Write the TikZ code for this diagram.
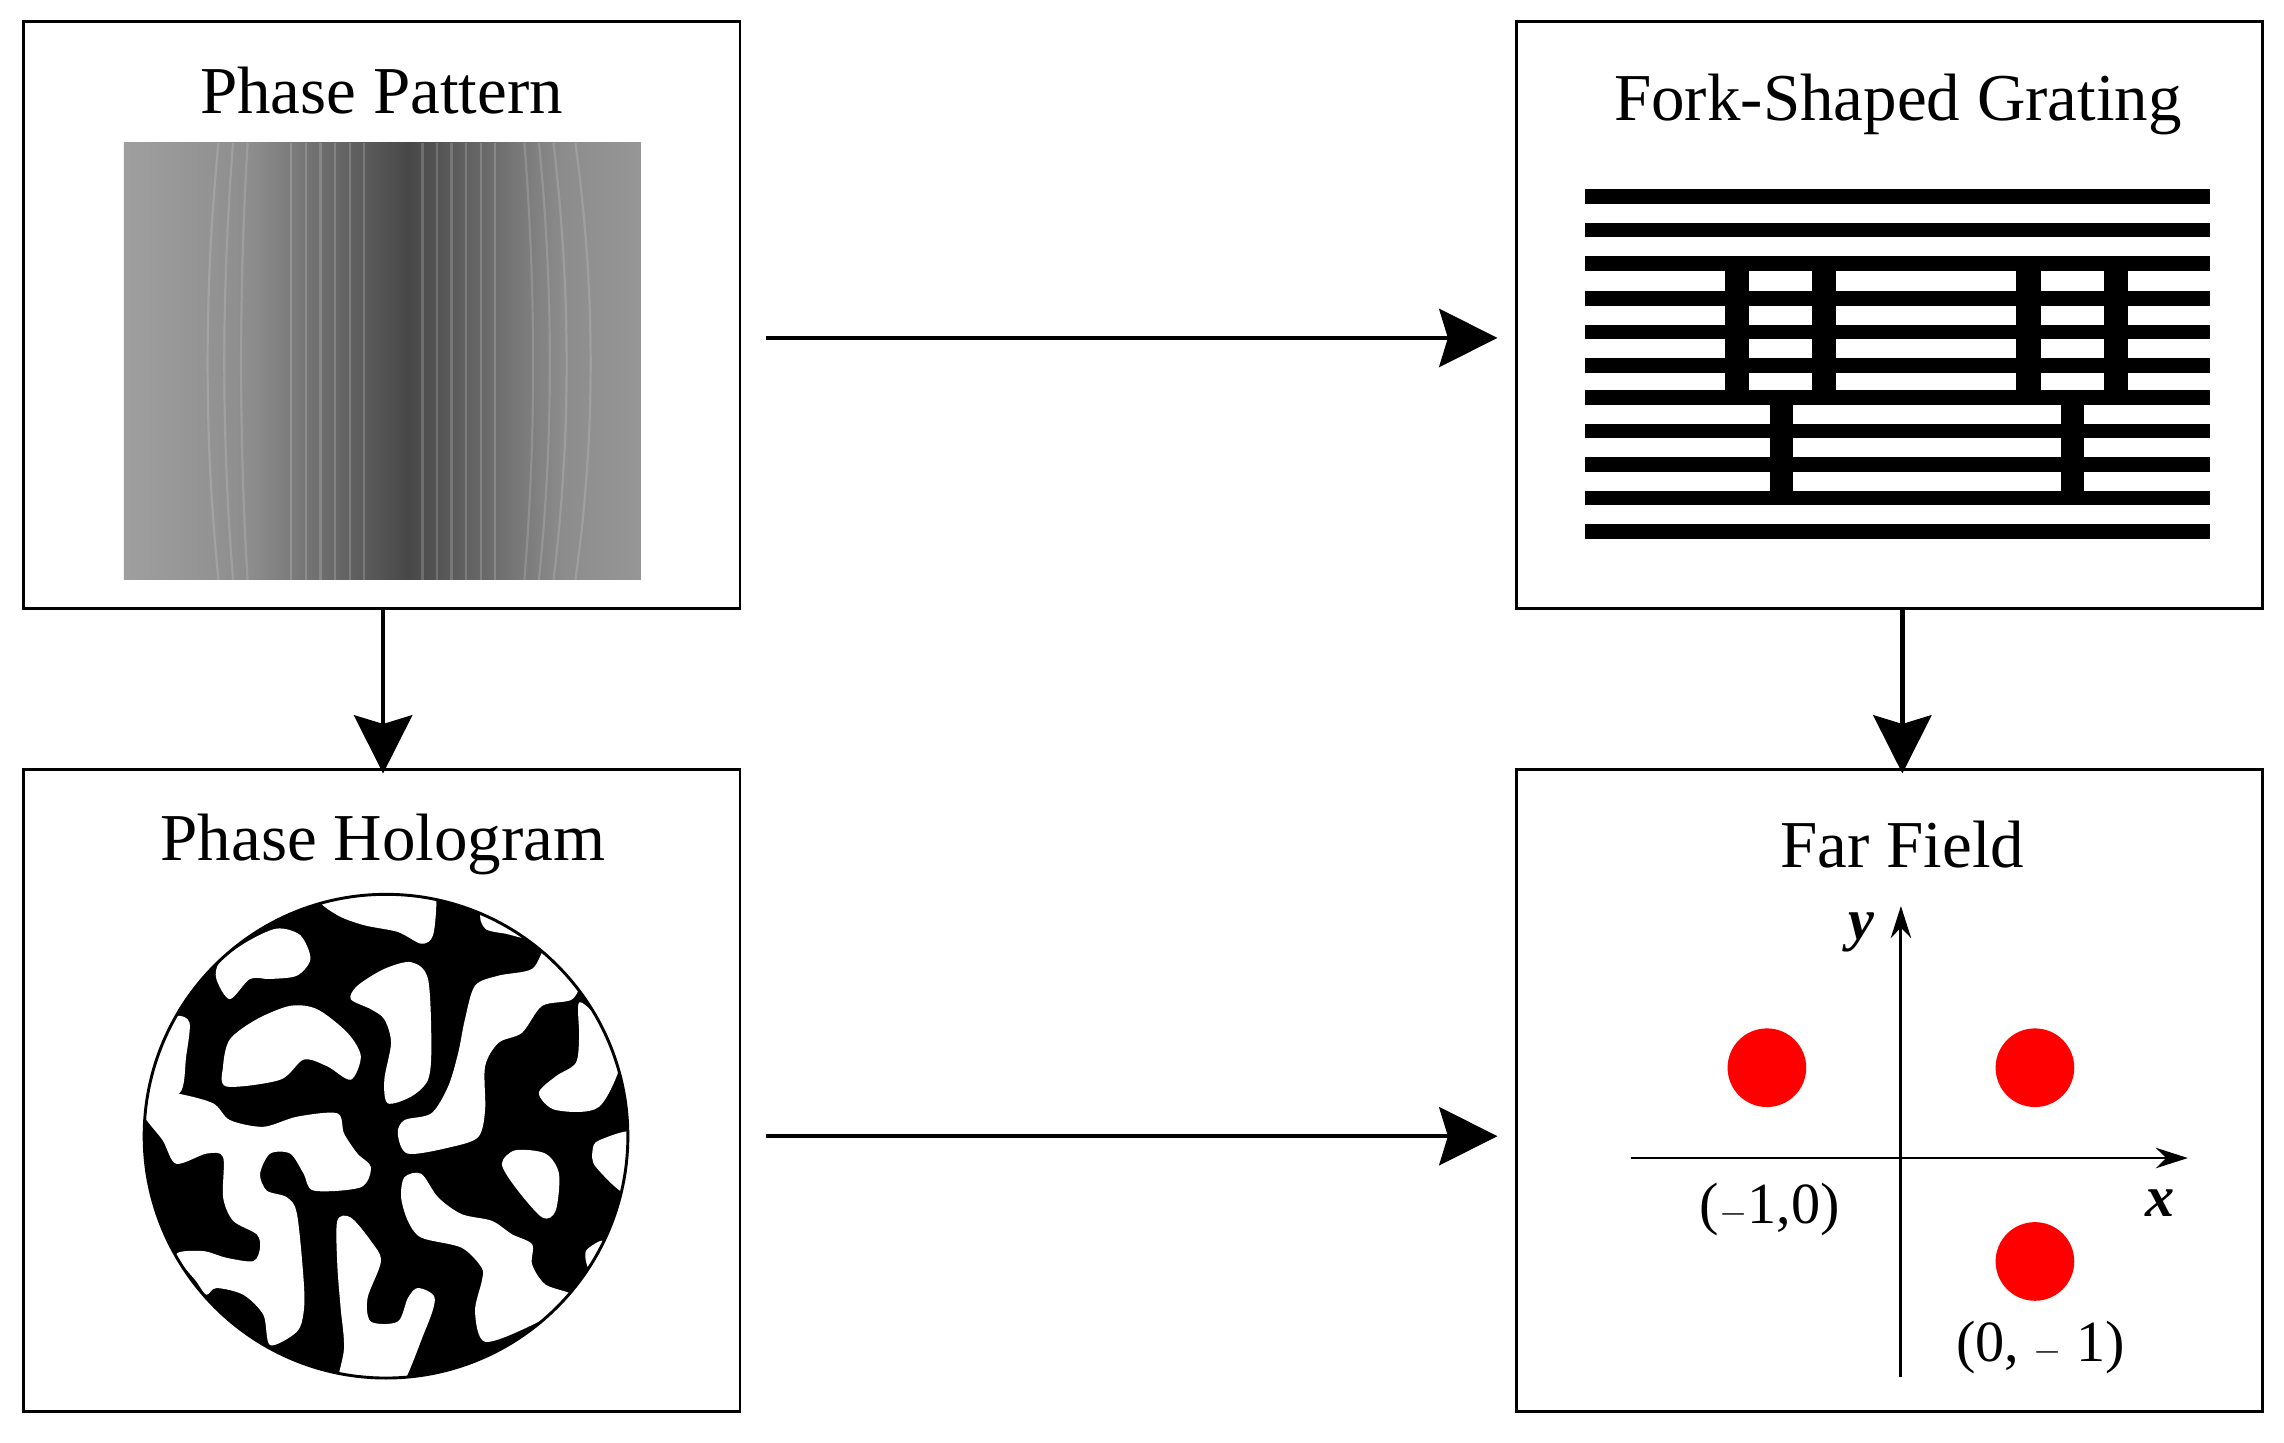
\documentclass[tikz,border=0pt]{standalone}
\usepackage{fontspec}
\setmainfont{Liberation Serif}
\usetikzlibrary{arrows.meta}
\pgfdeclarehorizontalshading{phase}{355bp}{
color(0bp)=(black!48); color(40bp)=(black!40); color(90bp)=(black!35); color(140bp)=(black!30);
color(165bp)=(black!45); color(180bp)=(black!72); color(195bp)=(black!45); color(220bp)=(black!32);
color(270bp)=(black!36); color(320bp)=(black!42); color(355bp)=(black!50)}
\begin{document}
\begin{tikzpicture}[x=1pt,y=-1pt,
 box/.style={draw,line width=2pt,inner sep=0pt},
 arr/.style={line width=3pt,-{Stealth[length=40pt,width=40pt,inset=6pt]}},
 ttl/.style={font=\fontsize{46}{50}\selectfont,inner sep=0pt},
 lbl/.style={font=\fontsize{40}{44}\selectfont,inner sep=0pt},
 bar/.style={fill=black}]
\useasboundingbox (0,0) rectangle (1568,990);
\fill[white] (0,0) rectangle (1568,990);
\node[box,minimum width=492pt,minimum height=403pt] (b1) at (262,216.5) {};
\node[box,minimum width=512pt,minimum height=403pt] (b2) at (1297,216.5) {};
\node[box,minimum width=492pt,minimum height=441pt] (b3) at (262,748.5) {};
\node[box,minimum width=512pt,minimum height=441pt] (b4) at (1297,748.5) {};
\node[ttl] (t1) at (262,62) {Phase Pattern};
\node[ttl] (t2) at (1303,72) {Fork-Shaped Grating};
\node[ttl] (t3) at (263,580) {Phase Hologram};
\node[ttl] (t4) at (1306,580) {Far Field};
% arrows
\coordinate (h1s) at (526,232); \coordinate (h1e) at (1028,232);
\coordinate (h2s) at (526,780); \coordinate (h2e) at (1028,780);
\draw[arr] (h1s) -- (h1e);
\draw[arr] (h2s) -- (h2e);
\draw[arr] (b1.south -| 263,0) -- ([yshift=-4pt]b3.north -| 263,0);
\draw[arr] (b2.south -| 1306,0) -- ([yshift=-4pt]b4.north -| 1306,0);
% phase pattern
\shade[shading=phase] (85,98) rectangle (440,398);
\begin{scope}
\clip (85,98) rectangle (440,398);
\foreach \x in {200,210,220,230,240,250,290,300,310,320,330,340}{
 \draw[white,opacity=0.18,line width=1.5pt] (\x,98) -- (\x,398);}
\foreach \x/\b in {150/-10,160/-8,170/-6,360/8,370/10,380/12,395/14}{
 \draw[white,opacity=0.15,line width=1.5pt] (\x,98) .. controls (\x+\b,200) and (\x+\b,300) .. (\x,398);}
\end{scope}
% fork grating
\foreach \y in {135,158,181,205,228,251,273,296,319,342,365}{
 \fill (1088,\y-5) rectangle (1517,\y+5);}
\fill (1184,181) rectangle (1200.5,273);
\fill (1244,181) rectangle (1260.5,273);
\fill (1384,181) rectangle (1401,273);
\fill (1444.5,181) rectangle (1461,273);
\fill (1215,273) rectangle (1230.6,342);
\fill (1415,273) rectangle (1430.6,342);
% hologram
\begin{scope}[shift={(265,780)},x=0.2306pt,y=-0.2306pt]
\begin{scope}[shift={(-765,-768)}]
\fill (765,768) circle (720);
\clip (765,768) circle (718);
\fill[white] plot[smooth cycle] coordinates {(570,60) (620,110) (700,140) (800,160) (870,195) (905,170) (915,60) (900,0) (700,0)};
\fill[white] plot[smooth cycle] coordinates {(1050,100) (1060,150) (1120,165) (1200,175) (1150,60)};
\fill[white] plot[smooth cycle] coordinates {(260,300) (300,360) (360,300) (420,300) (500,290) (540,240) (510,170) (440,150) (350,190) (270,250)};
\fill[white] plot[smooth cycle] coordinates {(290,620) (450,600) (520,540) (590,560) (660,600) (690,530) (650,460) (560,390) (480,380) (380,420) (300,480) (280,560)};
\fill[white] plot[smooth cycle] coordinates {(660,360) (720,390) (760,420) (780,490) (760,600) (770,670) (840,650) (890,600) (900,500) (890,300) (840,250) (760,270) (680,320)};
\fill[white] plot[smooth cycle] coordinates {(800,760) (830,820) (960,800) (1040,770) (1060,690) (1060,560) (1100,490) (1170,460) (1230,380) (1320,360) (1340,290) (1250,200) (1200,270) (1100,290) (1030,320) (1000,420) (980,520) (950,620) (900,700) (820,720)};
\fill[white] plot[smooth cycle] coordinates {(1340,370) (1400,420) (1470,520) (1400,680) (1270,690) (1220,640) (1270,590) (1330,550) (1340,470)};
\fill[white] plot[smooth cycle] coordinates {(1110,850) (1150,920) (1230,1010) (1270,990) (1280,880) (1240,820) (1150,810)};
\fill[white] plot[smooth cycle] coordinates {(1380,810) (1390,860) (1490,940) (1510,760) (1400,780)};
\fill[white] plot[smooth cycle] coordinates {(40,630) (140,640) (250,670) (300,720) (400,740) (500,710) (620,700) (640,760) (680,820) (720,860) (690,920) (550,930) (520,880) (480,820) (420,820) (390,880) (410,930) (470,950) (500,1000) (520,1200) (520,1290) (500,1350) (420,1390) (400,1300) (340,1240) (260,1220) (230,1240) (200,1200) (140,1120) (220,1110) (290,1130) (370,1140) (390,1100) (380,1060) (310,1020) (280,950) (280,830) (230,820) (140,850) (100,780) (40,700)};
\fill[white] plot[smooth cycle] coordinates {(140,410) (180,430) (170,530) (150,640) (40,630) (80,450)};
\fill[white] plot[smooth cycle] coordinates {(620,1020) (660,1010) (720,1080) (750,1140) (710,1250) (720,1320) (800,1320) (830,1250) (860,1220) (910,1250) (880,1350) (780,1560) (620,1560) (640,1400) (630,1280) (620,1150)};
\fill[white] plot[smooth cycle] coordinates {(820,890) (870,880) (920,950) (990,1000) (1080,1020) (1140,1060) (1200,1090) (1200,1150) (1240,1210) (1330,1250) (1200,1330) (1060,1380) (1030,1290) (1050,1200) (1050,1160) (990,1100) (870,1070) (830,1020) (810,950)};
\fill[white] plot[smooth cycle] coordinates {(1360,1110) (1410,1080) (1370,1160)};
\end{scope}
\draw[line width=2pt] (0,0) circle (720);
\end{scope}
% far field
\coordinate (yb) at (1305,945); \coordinate (yt) at (1305,622);
\coordinate (xl) at (1120,795); \coordinate (xr) at (1502,795);
\draw[line width=2pt,-{Stealth[length=22pt,width=14pt]}] (yb) -- (yt);
\draw[line width=2pt,-{Stealth[length=22pt,width=14pt]}] (xl) -- (xr);
\fill[red] (1213,733) circle (27);
\fill[red] (1397,733) circle (27);
\fill[red] (1397,866) circle (27);
\node[lbl,font=\fontsize{40}{44}\selectfont\itshape\bfseries] (ly) at (1278,640) {y};
\node[lbl,font=\fontsize{40}{44}\selectfont\itshape\bfseries] (lx) at (1483,826) {x};
\node[lbl] (l1) at (1215,830) {($-$1,0)};
\node[lbl] (l2) at (1401,925) {(0, $-$ 1)};
\end{tikzpicture}
\end{document}
